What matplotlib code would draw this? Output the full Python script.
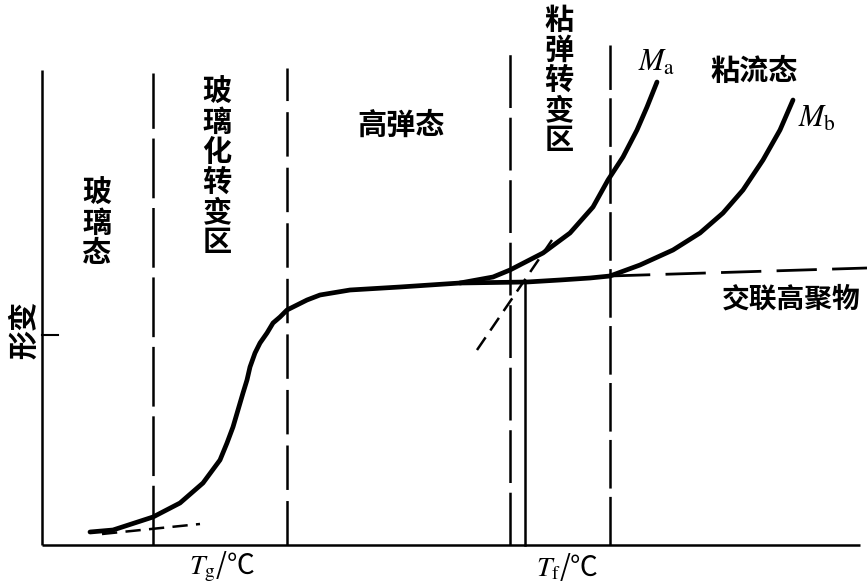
import matplotlib
matplotlib.use("Agg")
import matplotlib.pyplot as plt

plt.rcParams['font.family'] = ['Noto Sans CJK SC', 'DejaVu Sans']
plt.rcParams['mathtext.fontset'] = 'stix'
plt.rcParams['lines.scale_dashes'] = False

# temperature (arbitrary units) / deformation (arbitrary units)
main_t = [48, 71, 111, 138, 161, 178, 185, 191, 196, 201, 205, 208, 213, 218, 225, 231, 238,
          245, 255, 265, 278, 308, 358, 418, 485, 518, 548, 568]
main_d = [13, 15, 28, 42, 62, 85, 102, 118, 135, 152, 165, 178, 192, 202, 212, 222, 228,
          235, 240, 245, 250, 255, 258, 262, 263, 265, 267, 269]

ma_t = [418, 451, 468, 501, 528, 551, 566, 581, 595, 605, 615]
ma_d = [262, 268, 275, 292, 312, 338, 365, 388, 415, 438, 463]

mb_t = [568, 598, 631, 658, 681, 701, 721, 738, 751]
mb_d = [269, 280, 295, 312, 332, 355, 385, 415, 445]

cross_t = [568, 825]
cross_d = [269, 277]

flow_tan_t = [435, 510]
flow_tan_d = [195, 305]

glass_tan_t = [60, 158]
glass_tan_d = [11, 21]

# region boundaries: (temperature, top)
bounds_t = [111, 245, 468, 568]
bounds_top = [472, 477, 495, 500]
bounds_dash = [(43, 7), (32, 8), (38, 7), (35, 6)]
tf_t = 483
tf_top = 263

fig = plt.figure(figsize=(8.67, 5.85), dpi=100)
ax = fig.add_axes([0, 0, 1, 1])
ax.set_xlim(-42, 825)
ax.set_ylim(-40, 545)
ax.axis('off')

k = 'black'
# axes
ax.plot([0, 818], [0, 0], color=k, lw=1.8, solid_capstyle='butt')
ax.plot([0, 0], [0, 475], color=k, lw=1.8, solid_capstyle='butt')
ax.plot([0, 16], [210, 210], color=k, lw=1.5)

for t, top, dsh in zip(bounds_t, bounds_top, bounds_dash):
    ax.plot([t, t], [0, top], color=k, lw=1.8, linestyle=(0, dsh))
ax.plot([tf_t, tf_t], [0, tf_top], color=k, lw=1.8)

curve = dict(color=k, lw=3.4, solid_joinstyle='round', solid_capstyle='round')
ax.plot(main_t, main_d, **curve)
ax.plot(ma_t, ma_d, **curve)
ax.plot(mb_t, mb_d, **curve)
ax.plot(cross_t, cross_d, color=k, lw=2.0, linestyle=(0, (29, 11)))
ax.plot(flow_tan_t, flow_tan_d, color=k, lw=1.8, linestyle=(0, (11, 6)))
ax.plot(glass_tan_t, glass_tan_d, color=k, lw=1.8, linestyle=(0, (11, 6)))

fs = 21
tx = dict(fontsize=fs, color=k, ha='center', va='center', linespacing=1.0, fontweight='bold')
ax.text(55, 322, '玻\n璃\n态', **tx)
ax.text(175, 378, '玻\n璃\n化\n转\n变\n区', **tx)
ax.text(359, 420, '高弹态', **tx)
ax.text(517, 465, '粘\n弹\n转\n变\n区', **tx)
ax.text(712, 474, '粘流态', **tx)
ax.text(680, 245, '交联高聚物', fontsize=20, color=k, ha='left', va='center', fontweight='bold')
ax.text(-18, 215, '形变', fontsize=fs, color=k, ha='center', va='center', rotation=90,
        fontweight='bold')

ax.text(596, 483, r'$M_{\rm a}$', fontsize=22, color=k, ha='left', va='center')
ax.text(756, 427, r'$M_{\rm b}$', fontsize=22, color=k, ha='left', va='center')
ax.text(180, -22, r'$T_{\rm g}$/℃', fontsize=20, color=k, ha='center', va='center')
ax.text(525, -22, r'$T_{\rm f}$/℃', fontsize=20, color=k, ha='center', va='center')

fig.savefig('out.png', dpi=100, facecolor='white')
